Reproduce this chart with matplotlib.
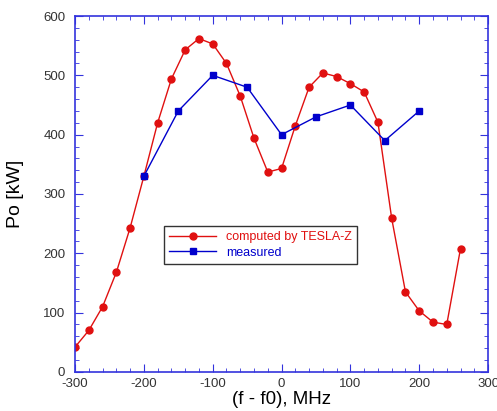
import matplotlib
matplotlib.use("Agg")
import matplotlib.pyplot as plt
from matplotlib.ticker import MultipleLocator

plt.rcParams['font.family'] = ['Liberation Sans', 'DejaVu Sans']
plt.rcParams['axes.unicode_minus'] = False

# computed by TESLA-Z
calc_f = [-300, -280, -260, -240, -220, -200, -180, -160, -140, -120, -100, -80,
          -60, -40, -20, 0, 20, 40, 60, 80, 100, 120, 140, 160, 180, 200, 220, 240, 260]
calc_po = [42, 70, 110, 168, 243, 330, 420, 494, 543, 562, 553, 520,
           465, 394, 337, 343, 415, 480, 504, 498, 486, 472, 421, 259, 135, 103, 84, 80, 208]

# measured
meas_f = [-200, -150, -100, -50, 0, 50, 100, 150, 200]
meas_po = [330, 440, 500, 480, 400, 430, 450, 390, 440]

red = '#e01010'
blue = '#0000cc'
axis_col = '#3333dd'

fig = plt.figure(figsize=(4.97, 4.11), dpi=100)
ax = fig.add_axes([0.151, 0.095, 0.831, 0.866])

ax.plot(calc_f, calc_po, color=red, lw=1, marker='o', ms=5,
        label='computed by TESLA-Z')
ax.plot(meas_f, meas_po, color=blue, lw=1, marker='s', ms=5,
        label='measured')

ax.set_xlim(-300, 300)
ax.set_ylim(0, 600)
ax.xaxis.set_major_locator(MultipleLocator(100))
ax.xaxis.set_minor_locator(MultipleLocator(20))
ax.yaxis.set_major_locator(MultipleLocator(100))
ax.yaxis.set_minor_locator(MultipleLocator(20))

for s in ax.spines.values():
    s.set_color(axis_col)
    s.set_linewidth(1.2)
ax.tick_params(which='both', direction='in', top=True, right=True,
               color=axis_col, labelcolor='#333333', labelsize=9.5)
ax.tick_params(which='major', length=6)
ax.tick_params(which='minor', length=3)
ax.tick_params(axis='x', pad=4)
ax.tick_params(axis='y', pad=7)

ax.set_xlabel('(f - f0), MHz', fontsize=13.5, labelpad=1)
ax.set_ylabel('Po [kW]', fontsize=14, labelpad=14)

leg = ax.legend(loc='center left', bbox_to_anchor=(0.2, 0.357), fontsize=9,
                frameon=True, fancybox=False, edgecolor='black',
                handlelength=3.8, borderpad=0.4, labelspacing=0.3)
leg.get_frame().set_linewidth(1)
leg.get_texts()[0].set_color(red)
leg.get_texts()[1].set_color(blue)

fig.savefig('out.png', dpi=100)
